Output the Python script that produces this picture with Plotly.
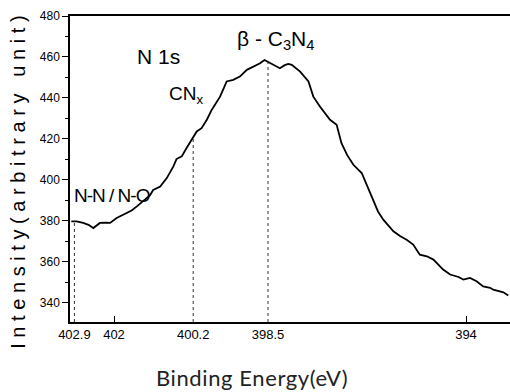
import plotly.graph_objects as go

# Binding energy (eV) and intensity (arbitrary unit)
energy = [402.97, 402.85, 402.70, 402.58, 402.47, 402.32, 402.20, 402.09, 401.94, 401.82,
          401.71, 401.60, 401.48, 401.37, 401.26, 401.18, 401.11, 400.95, 400.80, 400.65,
          400.58, 400.46, 400.35, 400.23, 400.12, 400.01, 399.89, 399.78, 399.68, 399.59,
          399.50, 399.44, 399.29, 399.14, 398.98, 398.83, 398.68, 398.58, 398.45, 398.33,
          398.23, 398.12, 398.04, 397.96, 397.77, 397.58, 397.47, 397.32, 397.09, 396.94,
          396.83, 396.70, 396.56, 396.37, 396.22, 396.11, 396.00, 395.88, 395.65, 395.50,
          395.35, 395.20, 395.05, 394.89, 394.74, 394.52, 394.36, 394.17, 394.06, 393.91,
          393.76, 393.61, 393.45, 393.38, 393.27, 393.15, 393.04]
intensity = [379.7, 379.7, 378.9, 378.0, 376.4, 378.9, 379.0, 378.9, 381.3, 382.5,
             383.8, 385.0, 387.0, 389.0, 391.1, 392.5, 395.0, 396.7, 400.8, 406.5,
             410.1, 411.4, 415.5, 419.5, 423.6, 425.2, 429.3, 434.1, 437.5, 440.6,
             445.0, 448.0, 448.8, 450.4, 453.7, 455.3, 456.9, 458.5, 457.0, 455.5,
             454.5, 456.0, 456.6, 456.1, 452.8, 448.0, 440.6, 435.8, 429.3, 426.8,
             417.9, 412.0, 407.3, 403.3, 396.0, 390.2, 384.5, 380.5, 374.8, 372.5,
             370.7, 368.3, 363.4, 362.6, 361.0, 356.1, 353.7, 352.5, 351.2, 352.0,
             350.4, 347.9, 347.2, 346.3, 345.5, 345.0, 343.4]

# marked peak positions (eV) and the intensity each dotted line reaches
peak_energy = [402.9, 400.2, 398.5]
peak_top = [380.0, 420.5, 457.6]

x_tickvals = [402.9, 402, 400.2, 398.5, 394]
x_ticktext = ["402.9", "402", "400.2", "398.5", "394"]
y_tickvals = [340, 360, 380, 400, 420, 440, 460, 480]

labels = ["N 1s", "CN<sub>x</sub>", "β - C<sub>3</sub>N<sub>4</sub>",
          '<span style="letter-spacing:-1px">N-N / N-O</span>']
label_x = [400.99, 400.80, 399.25, 402.95]
label_y = [460.0, 441.5, 468.3, 392.2]
label_anchor = ["center", "left", "left", "left"]
label_size = [21, 19, 21, 19]

tick_font = "Liberation Sans, Arial, sans-serif"
label_font = "Liberation Sans, Arial, sans-serif"

fig = go.Figure()
fig.add_trace(go.Scatter(x=energy, y=intensity, mode="lines",
                         line=dict(color="black", width=1.8), showlegend=False,
                         hoverinfo="skip"))

for e, top in zip(peak_energy, peak_top):
    fig.add_shape(type="line", xref="x", yref="y", x0=e, x1=e, y0=330.5, y1=top,
                  line=dict(color="#333", width=1, dash="dot"))

for t, lx, ly, an, sz in zip(labels, label_x, label_y, label_anchor, label_size):
    fig.add_annotation(x=lx, y=ly, xref="x", yref="y", text=t, showarrow=False,
                       xanchor=an, yanchor="middle",
                       font=dict(family=label_font, size=sz, color="black"))

fig.add_annotation(x=0.414, y=-0.18, xref="paper", yref="paper",
                   text='<span style="letter-spacing:0.6px">Binding Energy(eV)</span>',
                   showarrow=False, xanchor="center", yanchor="middle",
                   font=dict(family="Lato, Liberation Sans, sans-serif", size=22, color="#222"))
fig.add_annotation(x=-0.118, y=0.465, xref="paper", yref="paper",
                   text='<span style="letter-spacing:5.6px">Intensity(arbitrary unit)</span>',
                   textangle=-90, showarrow=False, xanchor="center", yanchor="middle",
                   font=dict(family="Liberation Sans, Arial, sans-serif", size=20, color="black"))

fig.update_layout(
    width=510, height=392,
    margin=dict(l=70, r=0, t=16, b=70),
    paper_bgcolor="white", plot_bgcolor="white",
    xaxis=dict(range=[403, 393], tickvals=x_tickvals, ticktext=x_ticktext,
               ticks="", showgrid=False, zeroline=False,
               showline=True, linecolor="black", linewidth=1.5, mirror=True,
               tickfont=dict(family=tick_font, size=13, color="black"),
               minor=dict(tickvals=[402, 394], ticks="inside", ticklen=6,
                          tickcolor="black", tickwidth=1.2)),
    yaxis=dict(range=[330.5, 480], tickvals=y_tickvals, ticks="outside", ticklen=6,
               tickcolor="black", tickwidth=1.2, showgrid=False, zeroline=False,
               showline=True, linecolor="black", linewidth=1.5,
               tickfont=dict(family=tick_font, size=12, color="black"),
               minor=dict(dtick=10, ticks="outside", ticklen=3, tickcolor="black")),
)

fig.write_html("out.html")
